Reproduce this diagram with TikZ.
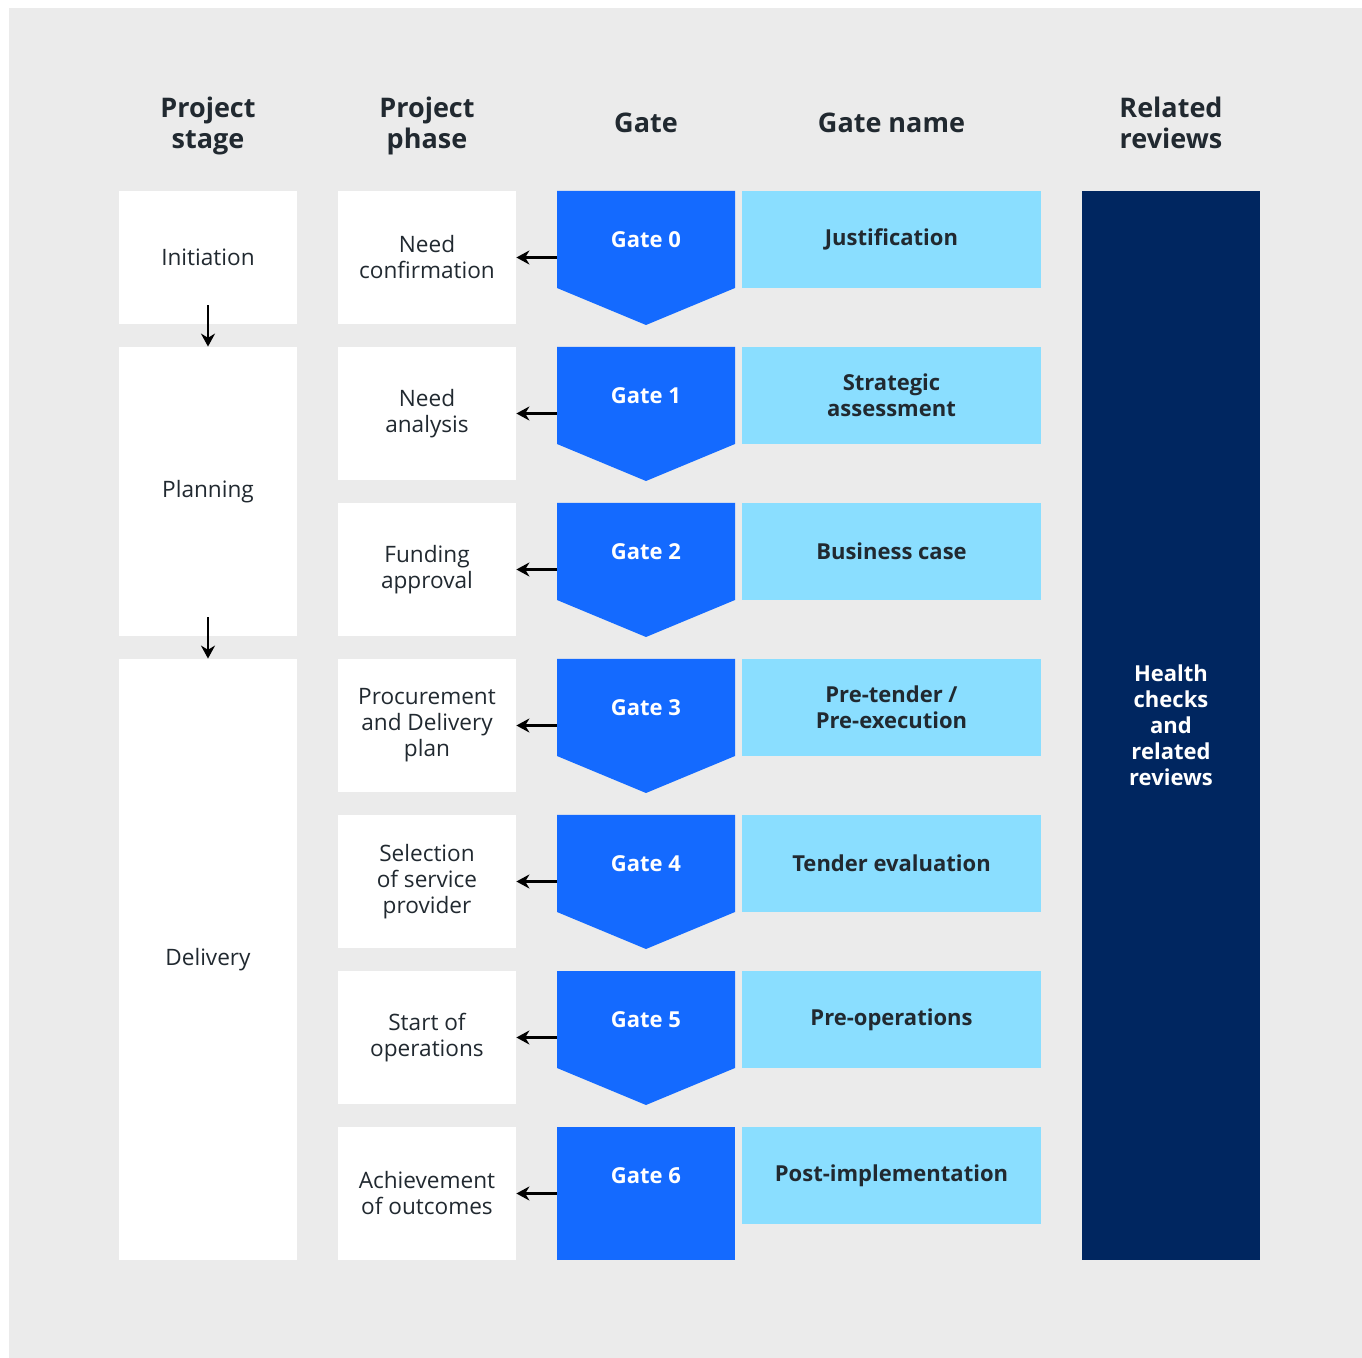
\documentclass[tikz,border=0pt]{standalone}
\usepackage{fontspec}
\setmainfont{Open Sans}
\usepackage{xcolor}
\usepackage{tikz}
\usetikzlibrary{arrows.meta, positioning, calc}

\definecolor{bggray}{RGB}{235,235,235}
\definecolor{gateblue}{RGB}{20,106,255}
\definecolor{namecyan}{RGB}{138,222,255}
\definecolor{navy}{RGB}{0,38,96}
\definecolor{inkdark}{RGB}{33,41,48}

\tikzset{
    head/.style={text=inkdark, align=center, font=\fontsize{13.5}{15.5}\selectfont\bfseries},
    stagebox/.style={fill=white, minimum width=89pt, text=inkdark, align=center, font=\fontsize{11.3}{13}\selectfont},
    phasebox/.style={stagebox, minimum height=66.5pt},
    gatebox/.style={fill=gateblue, text=white, minimum width=89pt, minimum height=48.5pt, font=\fontsize{11}{13}\selectfont\bfseries},
    namebox/.style={fill=namecyan, text=inkdark, minimum width=149.5pt, minimum height=48.5pt, align=center, font=\fontsize{11}{13}\selectfont\bfseries},
    backarrow/.style={-{Stealth[length=6.5pt, width=7pt]}, line width=1.3pt, black},
}

\begin{document}
\begin{tikzpicture}[x=0.5pt, y=-0.5pt]
    \useasboundingbox (0,0) rectangle (1362,1358);
    \fill[white] (0,0) rectangle (1362,1358);
    \fill[bggray] (9,8) rectangle (1362,1358);

    % column heads
    \node[head] (hstage) at (208,126) {Project\\stage};
    \node[head] (hphase) at (427,126) {Project\\phase};
    \node[head] (hgate) at (646,123) {Gate};
    \node[head] (hname) at (891.5,123) {Gate name};
    \node[head] (hrev) at (1171,123) {Related\\reviews};

    % project stages
    \node[stagebox, minimum height=66.5pt] (init) at (208,257.5) {Initiation};
    \node[stagebox, minimum height=144.5pt] (plan) at (208,491.5) {Planning};
    \node[stagebox, minimum height=300.5pt] (deliv) at (208,959.5) {Delivery};
    \draw[backarrow] ($(init.south)+(0,-19)$) -- (plan.north);
    \draw[backarrow] ($(plan.south)+(0,-19)$) -- (deliv.north);

    % project phases
    \node[phasebox] (p0) at (427,257.5) {Need\\confirmation};
    \node[phasebox] (p1) at (427,413.5) {Need\\analysis};
    \node[phasebox] (p2) at (427,569.5) {Funding\\approval};
    \node[phasebox] (p3) at (427,725.5) {Procurement\\and Delivery\\plan};
    \node[phasebox] (p4) at (427,881.5) {Selection\\of service\\provider};
    \node[phasebox] (p5) at (427,1037.5) {Start of\\operations};
    \node[phasebox] (p6) at (427,1193.5) {Achievement\\of outcomes};

    % gates (pointed base drawn under each box)
    \fill[gateblue] (570,191) -- (735,191) -- (735,288) -- (646,325) -- (557,288) -- (557,191) -- cycle;
    \fill[gateblue] (557,347) -- (735,347) -- (735,444) -- (646,481) -- (557,444) -- cycle;
    \fill[gateblue] (557,503) -- (735,503) -- (735,600) -- (646,637) -- (557,600) -- cycle;
    \fill[gateblue] (557,659) -- (735,659) -- (735,756) -- (646,793) -- (557,756) -- cycle;
    \fill[gateblue] (557,815) -- (735,815) -- (735,912) -- (646,949) -- (557,912) -- cycle;
    \fill[gateblue] (557,971) -- (735,971) -- (735,1068) -- (646,1105) -- (557,1068) -- cycle;
    \fill[gateblue] (557,1127) rectangle (735,1260);
    \node[gatebox] (g0) at (646,239.5) {Gate 0};
    \node[gatebox] (g1) at (646,395.5) {Gate 1};
    \node[gatebox] (g2) at (646,551.5) {Gate 2};
    \node[gatebox] (g3) at (646,707.5) {Gate 3};
    \node[gatebox] (g4) at (646,863.5) {Gate 4};
    \node[gatebox] (g5) at (646,1019.5) {Gate 5};
    \node[gatebox] (g6) at (646,1175.5) {Gate 6};

    % gate to phase
    \draw[backarrow] (g0.west |- p0) -- (p0.east);
    \draw[backarrow] (g1.west |- p1) -- (p1.east);
    \draw[backarrow] (g2.west |- p2) -- (p2.east);
    \draw[backarrow] (g3.west |- p3) -- (p3.east);
    \draw[backarrow] (g4.west |- p4) -- (p4.east);
    \draw[backarrow] (g5.west |- p5) -- (p5.east);
    \draw[backarrow] (g6.west |- p6) -- (p6.east);

    % gate names
    \node[namebox] (n0) at (891.5,239.5) {Justification};
    \node[namebox] (n1) at (891.5,395.5) {Strategic\\assessment};
    \node[namebox] (n2) at (891.5,551.5) {Business case};
    \node[namebox] (n3) at (891.5,707.5) {Pre-tender /\\Pre-execution};
    \node[namebox] (n4) at (891.5,863.5) {Tender evaluation};
    \node[namebox] (n5) at (891.5,1019.5) {Pre-operations};
    \node[namebox] (n6) at (891.5,1175.5) {Post-implementation};

    % related reviews
    \node[fill=navy, text=white, minimum width=89pt, minimum height=534.5pt, align=center,
          font=\fontsize{11}{13}\selectfont\bfseries] (rev) at (1171,725.5)
          {Health\\checks\\and\\related\\reviews};
\end{tikzpicture}
\end{document}
